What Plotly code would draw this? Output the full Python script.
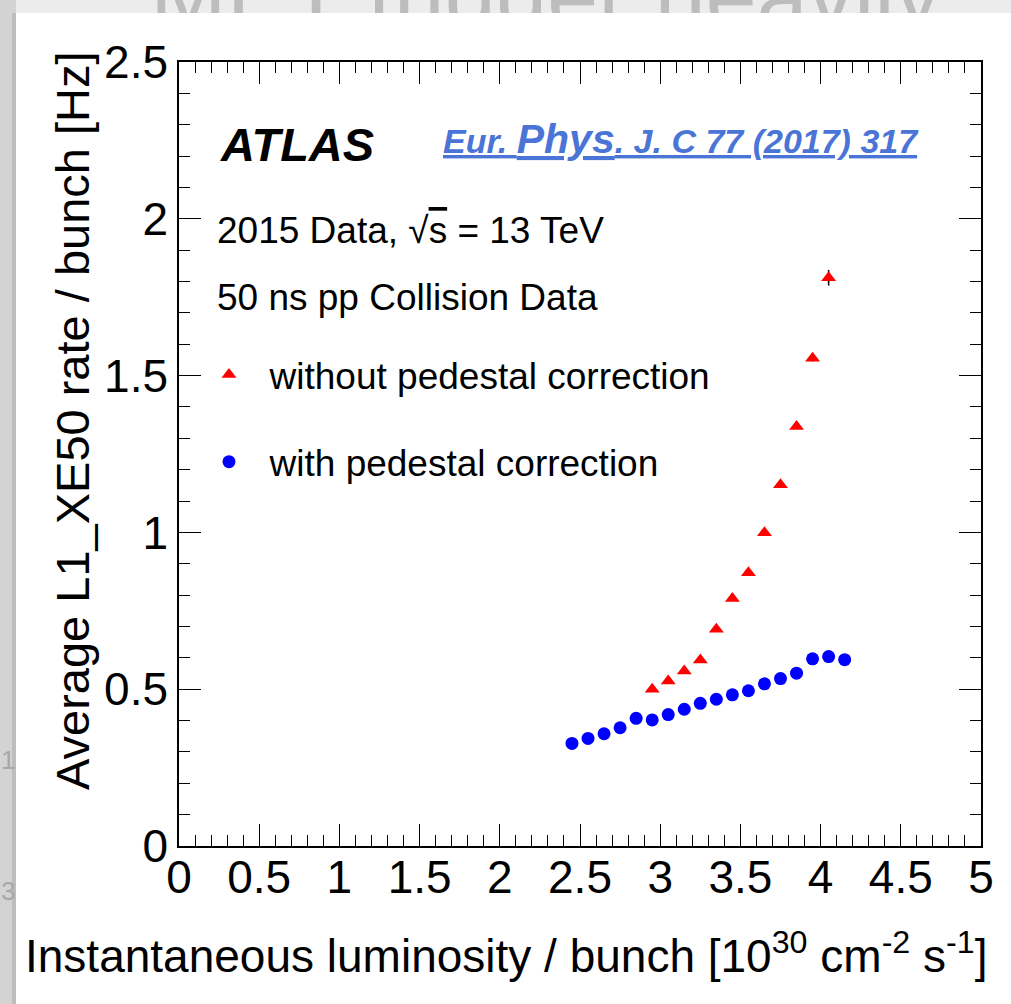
import plotly.graph_objects as go

# ---------------- data ----------------
lumi_red = [2.95, 3.05, 3.15, 3.25, 3.35, 3.45, 3.55, 3.65, 3.75, 3.85, 3.95, 4.05]
rate_red = [0.500, 0.526, 0.558, 0.593, 0.691, 0.789, 0.871, 0.999, 1.152, 1.338, 1.555, 1.812]
err_red = [0, 0, 0, 0, 0, 0, 0, 0, 0, 0, 0.01, 0.025]

lumi_blue = [2.45, 2.55, 2.65, 2.75, 2.85, 2.95, 3.05, 3.15, 3.25, 3.35, 3.45, 3.55,
             3.65, 3.75, 3.85, 3.95, 4.05, 4.15]
rate_blue = [0.327, 0.343, 0.358, 0.377, 0.407, 0.402, 0.419, 0.436, 0.455, 0.468, 0.482,
             0.495, 0.517, 0.534, 0.551, 0.597, 0.604, 0.594]

x_ticks = [0, 0.5, 1, 1.5, 2, 2.5, 3, 3.5, 4, 4.5, 5]
x_ticklabels = ["0", "0.5", "1", "1.5", "2", "2.5", "3", "3.5", "4", "4.5", "5"]
y_ticks = [0, 0.5, 1, 1.5, 2, 2.5]
y_ticklabels = ["0", "0.5", "1", "1.5", "2", "2.5"]

name_red = "\u00a0\u00a0without pedestal correction"
name_blue = "\u00a0\u00a0with pedestal correction"

# ---------------- geometry helpers ----------------
W, H = 1011, 1004
def px(x):
    return x / W
def py(y):
    return 1 - y / H

FONT = "Liberation Sans, Arial, Helvetica, sans-serif"

fig = go.Figure()

fig.add_trace(go.Scatter(
    x=lumi_red, y=rate_red, mode="markers", name=name_red,
    legendgroup="a",
    marker=dict(symbol="triangle-up", size=13, color="#ff0000", line=dict(width=0)),
    error_y=dict(type="data", array=err_red, visible=True, color="black",
                 thickness=1.5, width=0),
))
fig.add_trace(go.Scatter(
    x=lumi_blue, y=rate_blue, mode="markers", name=name_blue,
    legendgroup="b",
    marker=dict(symbol="circle", size=13, color="#0000ff", line=dict(width=0)),
))

# decorative slide background text (clipped strips)
fig.add_trace(go.Scatter(
    x=[150], y=[5], mode="text", text=["MET trigger heavily"],
    textposition="middle right", cliponaxis=True, showlegend=False,
    textfont=dict(family=FONT, size=92, color="#bdbdbd"),
    xaxis="x2", yaxis="y2", hoverinfo="skip",
))
fig.add_trace(go.Scatter(
    x=[1, 1], y=[762, 893], mode="text", text=["1", "3"],
    textposition="middle right", cliponaxis=True, showlegend=False,
    textfont=dict(family=FONT, size=26, color="#a8a8a8"),
    xaxis="x3", yaxis="y3", hoverinfo="skip",
))

axis_common = dict(
    showgrid=False, zeroline=False, showline=True, linecolor="black", linewidth=1.5,
    mirror="ticks", ticks="inside", ticklen=22, tickwidth=1.3, tickcolor="black",
    tickfont=dict(family=FONT, size=46, color="black"), automargin=False,
)

fig.update_layout(
    width=W, height=H, autosize=False,
    margin=dict(l=0, r=0, t=0, b=0, pad=0, autoexpand=False),
    paper_bgcolor="white", plot_bgcolor="rgba(0,0,0,0)",
    font=dict(family=FONT, color="black"),
    xaxis=dict(
        domain=[px(179), px(981)], range=[0, 5],
        tickmode="array", tickvals=x_ticks, ticktext=x_ticklabels,
        ticklabelstandoff=-10,
        minor=dict(dtick=0.1, ticklen=11, ticks="inside", tickwidth=1.3, tickcolor="black"),
        **axis_common,
    ),
    yaxis=dict(
        domain=[py(846), py(62)], range=[0, 2.5],
        tickmode="array", tickvals=y_ticks, ticktext=y_ticklabels,
        minor=dict(dtick=0.1, ticklen=11, ticks="inside", tickwidth=1.3, tickcolor="black"),
        **axis_common,
    ),
    xaxis2=dict(domain=[0, 1], range=[0, W], visible=False, anchor="y2"),
    yaxis2=dict(domain=[py(13), 1], range=[13, 0], visible=False, anchor="x2"),
    xaxis3=dict(domain=[0, px(15)], range=[0, 15], visible=False, anchor="y3"),
    yaxis3=dict(domain=[0, 1], range=[H, 0], visible=False, anchor="x3"),
    showlegend=True,
    legend=dict(
        x=px(209), y=py(344), xanchor="left", yanchor="top",
        font=dict(family=FONT, size=37, color="black"),
        bgcolor="rgba(0,0,0,0)", borderwidth=0,
        traceorder="grouped", tracegroupgap=36,
    ),
    shapes=[
        dict(type="rect", xref="paper", yref="paper", x0=0, x1=1, y0=py(13), y1=1,
             fillcolor="#ececec", line=dict(width=0), layer="below"),
        dict(type="rect", xref="paper", yref="paper", x0=0, x1=px(16), y0=0, y1=1,
             fillcolor="#d3d3d3", line=dict(width=0), layer="below"),
        dict(type="rect", xref="paper", yref="paper", x0=px(12), x1=px(16), y0=0, y1=py(13),
             fillcolor="#bdbdbd", line=dict(width=0), layer="below"),
    ],
    annotations=[
        dict(x=px(218), y=py(145), xref="paper", yref="paper", xanchor="left", yanchor="middle",
             text="<b><i>ATLAS</i></b>", showarrow=False,
             font=dict(family=FONT, size=47, color="black")),
        dict(x=px(441), y=py(139), xref="paper", yref="paper", xanchor="left", yanchor="middle",
             text="<u><b><i>Eur. <span style='font-size:41px'>Phys</span>. J. C 77 (2017) 317</i></b></u>",
             showarrow=False, font=dict(family=FONT, size=34, color="#4a74d6")),
        dict(x=px(215), y=py(230), xref="paper", yref="paper", xanchor="left", yanchor="middle",
             text="2015 Data, \u221a<span style='text-decoration:overline'>s</span> = 13 TeV",
             showarrow=False, font=dict(family=FONT, size=37, color="black")),
        dict(x=px(215), y=py(298), xref="paper", yref="paper", xanchor="left", yanchor="middle",
             text="50 ns pp Collision Data", showarrow=False,
             font=dict(family=FONT, size=37, color="black")),
        dict(x=px(506), y=py(953), xref="paper", yref="paper", xanchor="center", yanchor="middle",
             text="Instantaneous luminosity / bunch [10<sup>30</sup> cm<sup>-2</sup> s<sup>-1</sup>]",
             showarrow=False, font=dict(family=FONT, size=46, color="black")),
        dict(x=px(72), y=py(421), xref="paper", yref="paper", xanchor="center", yanchor="middle",
             text="Average L1_XE50 rate / bunch [Hz]", textangle=-90,
             showarrow=False, font=dict(family=FONT, size=47, color="black")),
    ],
)

fig.write_html("out.html", config={"displayModeBar": False},
               post_script="document.body.style.margin='0px';")
